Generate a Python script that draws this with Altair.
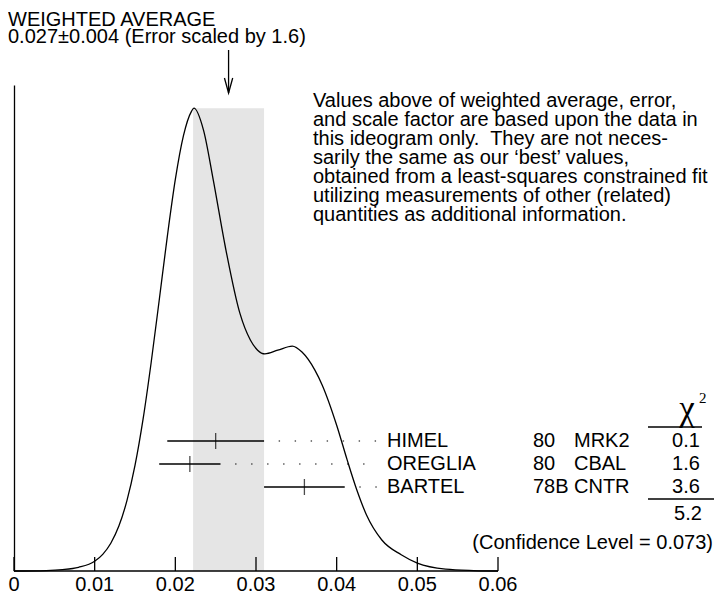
import altair as alt
import pandas as pd

FONT = "Liberation Sans"
FS = 20

# ideogram curve (x value, height relative to the peak)
curve_x = [0.000, 0.004, 0.006, 0.008, 0.010, 0.011, 0.012, 0.013, 0.014, 0.015,
           0.016, 0.017, 0.018, 0.019, 0.020, 0.021, 0.022, 0.0223, 0.0235, 0.0247,
           0.0262, 0.0280, 0.0293, 0.0302, 0.0311, 0.0327, 0.0345, 0.0357, 0.0373, 0.0382,
           0.0400, 0.0413, 0.0425, 0.0437, 0.0456, 0.0480, 0.0500, 0.0535, 0.0570, 0.0600]
curve_h = [0.000, 0.001, 0.003, 0.008, 0.021, 0.036, 0.060, 0.097, 0.152, 0.228,
           0.328, 0.450, 0.585, 0.722, 0.846, 0.940, 0.993, 1.000, 0.952, 0.845,
           0.700, 0.557, 0.499, 0.477, 0.469, 0.477, 0.486, 0.473, 0.434, 0.402,
           0.315, 0.240, 0.175, 0.121, 0.067, 0.035, 0.017, 0.004, 0.001, 0.000]

# measurements
names = ["HIMEL", "OREGLIA", "BARTEL"]
years = ["80", "80", "78B"]
methods = ["MRK2", "CBAL", "CNTR"]
values = [0.025, 0.0218, 0.036]
errors = [0.006, 0.0038, 0.005]
chi2 = ["0.1", "1.6", "3.6"]
chi2_total = ["5.2"]
conf_text = ["(Confidence Level = 0.073)"]

# weighted average and scaled error (band)
avg = [0.0266]
avg_err = [0.0044]
band_top = [1.0]

tick_values = [0, 0.01, 0.02, 0.03, 0.04, 0.05, 0.06]
tick_labels = ["0", "0.01", "0.02", "0.03", "0.04", "0.05", "0.06"]

title_lines = ["WEIGHTED AVERAGE", "0.027\u00b10.004 (Error scaled by 1.6)"]
note_lines = [
    "Values above of weighted average, error,",
    "and scale factor are based upon the data in",
    "this ideogram only.\u00a0 They are not neces-",
    "sarily the same as our \u2018best\u2019 values,",
    "obtained from a least-squares constrained fit",
    "utilizing measurements of other (related)",
    "quantities as additional information.",
]

PL = 6            # left padding: plot starts at page x = 8 + PL
W, H = 484, 486
OX = 8 + PL       # page x of the plot origin

xscale = alt.Scale(domain=[0, 0.06], nice=False, zero=False)
yscale = alt.Scale(domain=[0, 1.05], nice=False, zero=True)
rowscale = alt.Scale(domain=[0, 2], range=[356, 402], nice=False, zero=False)

curve_df = pd.DataFrame({"x": curve_x, "h": curve_h})
rows = pd.DataFrame({
    "row": [0, 1, 2], "name": names, "year": years, "method": methods, "chi": chi2,
    "v": values,
    "lo": [v - e for v, e in zip(values, errors)],
    "hi": [v + e for v, e in zip(values, errors)],
})
band_df = pd.DataFrame({"lo": [avg[0] - avg_err[0]], "hi": [avg[0] + avg_err[0]],
                        "top": band_top, "bottom": [0.0], "avg": avg})
ticks_df = pd.DataFrame({"t": tick_values, "lab": tick_labels})
axis_df = pd.DataFrame({"a": [tick_values[0]], "b": [tick_values[-1]]})
one = pd.DataFrame({"a": [0]})

band = alt.Chart(band_df).mark_rect(color="#e5e5e5").encode(
    x=alt.X("lo:Q", scale=xscale, axis=None),
    x2="hi:Q",
    y=alt.Y("top:Q", scale=yscale, axis=None),
    y2="bottom:Q",
)

curve = alt.Chart(curve_df).mark_line(color="black", strokeWidth=1.3, interpolate="monotone").encode(
    x=alt.X("x:Q", scale=xscale, axis=None),
    y=alt.Y("h:Q", scale=yscale,
            axis=alt.Axis(ticks=False, labels=False, grid=False, title=None,
                          domainColor="black", domainWidth=1.3)),
)

baseline = alt.Chart(axis_df).mark_rule(color="black", strokeWidth=1.3).encode(
    x=alt.X("a:Q", scale=xscale, axis=None),
    x2="b:Q",
    y=alt.value(H),
)

inner_ticks = alt.Chart(ticks_df).mark_rule(color="black", strokeWidth=1.3).encode(
    x=alt.X("t:Q", scale=xscale, axis=None),
    y=alt.value(H),
    y2=alt.value(H - 14),
)
tick_text = alt.Chart(ticks_df).mark_text(align="center", baseline="alphabetic", font=FONT,
                                          fontSize=FS, color="black").encode(
    x=alt.X("t:Q", scale=xscale, axis=None),
    y=alt.value(H + 20),
    text="lab:N",
)

ebar = alt.Chart(rows).mark_rule(color="black", strokeWidth=1.3).encode(
    x=alt.X("lo:Q", scale=xscale, axis=None),
    x2="hi:Q",
    y=alt.Y("row:Q", scale=rowscale, axis=None),
)
ecenter = alt.Chart(rows).mark_tick(color="black", thickness=1.3, size=16, orient="vertical").encode(
    x=alt.X("v:Q", scale=xscale, axis=None),
    y=alt.Y("row:Q", scale=rowscale, axis=None),
)
dots = alt.Chart(rows).mark_rule(color="black", strokeWidth=1.2, strokeDash=[1.4, 14.6],
                                 strokeDashOffset=1.4).encode(
    x=alt.X("hi:Q", scale=xscale, axis=None),
    x2=alt.value(378 - OX),
    y=alt.Y("row:Q", scale=rowscale, axis=None),
)

def row_text(field, xpage, align):
    return alt.Chart(rows).mark_text(align=align, baseline="middle", font=FONT, fontSize=FS,
                                     color="black").encode(
        x=alt.value(xpage - OX), y=alt.Y("row:Q", scale=rowscale, axis=None), text=f"{field}:N")

t_name = row_text("name", 387, "left")
t_year = row_text("year", 533, "left")
t_meth = row_text("method", 574, "left")
t_chi = row_text("chi", 686, "center")

arrow_line = alt.Chart(band_df).mark_rule(color="black", strokeWidth=1.3).encode(
    x=alt.X("avg:Q", scale=xscale, axis=None),
    y=alt.value(-35), y2=alt.value(8),
)
arrow_head = alt.Chart(band_df).mark_point(shape="M-0.55,-1L0,1L0.55,-1", size=225, filled=False,
                                           color="black", strokeWidth=1.3, opacity=1).encode(
    x=alt.X("avg:Q", scale=xscale, axis=None),
    y=alt.value(0.5),
)

title_df = pd.DataFrame({"t": title_lines, "yy": [-59, -42]})
title_txt = alt.Chart(title_df).mark_text(align="left", baseline="alphabetic", font=FONT,
                                          fontSize=FS, color="black").encode(
    x=alt.value(8 - OX), y=alt.Y("yy:Q", scale=None), text="t:N")

note_txt = alt.Chart(pd.DataFrame({"t": ["\n".join(note_lines)]})).mark_text(
    align="left", baseline="top", font=FONT, fontSize=FS, lineHeight=19, lineBreak="\n",
    color="black").encode(x=alt.value(313 - OX), y=alt.value(6), text="t:N")

chi_sym = alt.Chart(one).mark_text(text="\u03c7", align="center", baseline="alphabetic",
                                    font="Liberation Serif", fontSize=35, color="black").encode(
    x=alt.value(687 - OX), y=alt.value(335))
chi_sup = alt.Chart(one).mark_text(text="2", align="left", baseline="alphabetic",
                                    font="Liberation Serif", fontSize=15, color="black").encode(
    x=alt.value(699 - OX), y=alt.value(318))
line_top = alt.Chart(one).mark_rule(color="black", strokeWidth=1.3).encode(
    x=alt.value(648 - OX), x2=alt.value(702 - OX), y=alt.value(342))
line_bot = alt.Chart(one).mark_rule(color="black", strokeWidth=1.3).encode(
    x=alt.value(648 - OX), x2=alt.value(714 - OX), y=alt.value(414))
total_txt = alt.Chart(pd.DataFrame({"t": chi2_total})).mark_text(
    align="center", baseline="middle", font=FONT, fontSize=FS, color="black").encode(
    x=alt.value(688 - OX), y=alt.value(429), text="t:N")
conf_txt = alt.Chart(pd.DataFrame({"t": conf_text})).mark_text(
    align="right", baseline="middle", font=FONT, fontSize=FS, color="black").encode(
    x=alt.value(713 - OX), y=alt.value(458), text="t:N")

chart = alt.layer(
    band, curve, baseline, inner_ticks, tick_text, ebar, ecenter, dots,
    t_name, t_year, t_meth, t_chi,
    arrow_line, arrow_head, title_txt, note_txt,
    chi_sym, chi_sup, line_top, line_bot, total_txt, conf_txt,
).resolve_scale(y="independent").properties(
    width=W, height=H,
    padding={"left": PL, "top": 77, "right": 216, "bottom": 25},
    autosize=alt.AutoSizeParams(type="none"),
    background="white",
).configure_view(stroke=None)

chart.save("out.html", embed_options={"renderer": "svg", "actions": False})
